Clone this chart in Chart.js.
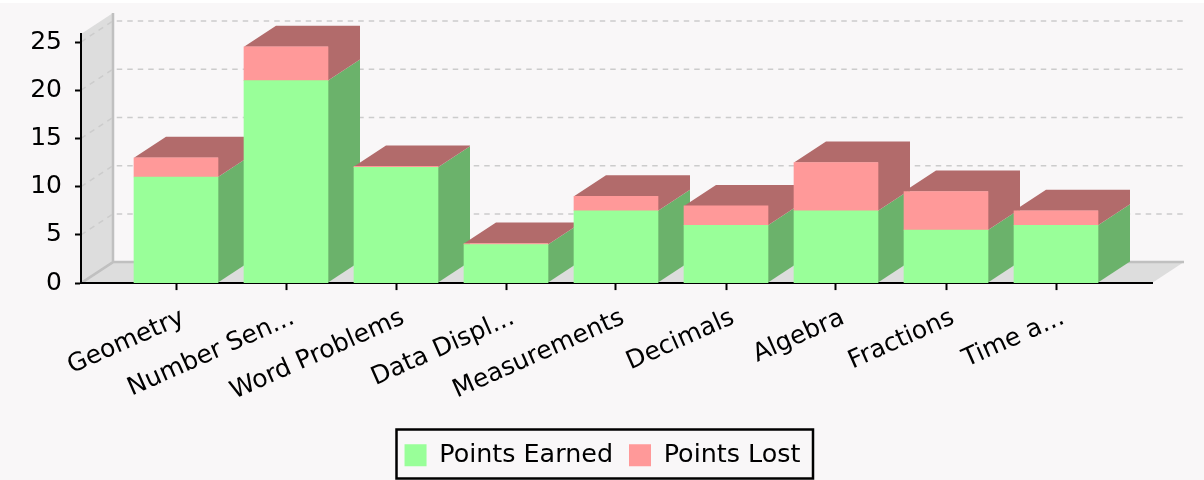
<!DOCTYPE html>
<html><head><meta charset="utf-8">
<style>html,body{margin:0;padding:0;background:#fff}#w{position:relative;width:1204px;height:480px}</style>
<script src="https://cdn.jsdelivr.net/npm/chart.js@4"></script></head>
<body><div id="w"><canvas id="c" width="1204" height="480"></canvas></div>
<script>
const categories = ['Geometry','Number Sen...','Word Problems','Data Displ...','Measurements','Decimals','Algebra','Fractions','Time a...'];
const pointsEarned = [11, 21, 12, 4, 7.5, 6, 7.5, 5.5, 6];
const pointsLost = [2, 3.5, 0.1, 0.1, 1.5, 2, 5, 4, 1.5];
const seriesNames = ['Points Earned','Points Lost'];
const frontColors = ['#99FF99','#FF9999'];
const sideColors = ['#6BB26B','#B26B6B'];
const DX = 32, DY = -21;
const FONT = 'DejaVu Sans';

const scene = {
  id:'scene',
  afterLayout(ch){
    const l=ch.legend;
    l.left=0; l.right=1205; l.width=1205;
    l.top-=2; l.bottom-=2;
  },
  beforeDraw(ch){
    const {ctx,chartArea:a,scales:{y}} = ch;
    ctx.save();
    ctx.fillStyle='#F9F7F8'; ctx.fillRect(0,3,1204,477);
    ctx.fillStyle='#DDDDDD';
    ctx.beginPath();ctx.moveTo(a.left,a.top);ctx.lineTo(a.left+DX,a.top+DY);ctx.lineTo(a.left+DX,a.bottom+DY);ctx.lineTo(a.left,a.bottom);ctx.closePath();ctx.fill();
    ctx.beginPath();ctx.moveTo(a.left,a.bottom);ctx.lineTo(a.left+DX,a.bottom+DY);ctx.lineTo(a.right+DX,a.bottom+DY);ctx.lineTo(a.right,a.bottom);ctx.closePath();ctx.fill();
    ctx.strokeStyle='#C0C0C0';ctx.lineWidth=2.5;
    ctx.beginPath();ctx.moveTo(a.left+DX,a.top+DY);ctx.lineTo(a.left+DX,a.bottom+DY);ctx.lineTo(a.right+DX,a.bottom+DY);
    ctx.moveTo(a.left,a.bottom);ctx.lineTo(a.left+DX,a.bottom+DY);ctx.stroke();
    ctx.strokeStyle='#CCCCCC';ctx.lineWidth=1.5;ctx.setLineDash([5.5,5]);
    y.ticks.forEach(t=>{ if(t.value===0) return; const p=y.getPixelForValue(t.value);
      ctx.beginPath();ctx.moveTo(a.left,p);ctx.lineTo(a.left+DX,p+DY);ctx.lineTo(a.right+DX,p+DY);ctx.stroke();});
    ctx.restore();
  },
  beforeDatasetsDraw(ch){
    const ctx=ch.ctx; ctx.save();
    const m0=ch.getDatasetMeta(0), m1=ch.getDatasetMeta(1);
    m0.data.forEach((g,i)=>{
      const b=m1.data[i], r=g.x+g.width/2, l=g.x-g.width/2;
      ctx.fillStyle=sideColors[0];
      ctx.beginPath();ctx.moveTo(r,g.base);ctx.lineTo(r+DX,g.base+DY);ctx.lineTo(r+DX,g.y+DY);ctx.lineTo(r,g.y);ctx.closePath();ctx.fill();
      ctx.fillStyle=sideColors[1];
      ctx.beginPath();ctx.moveTo(r,g.y);ctx.lineTo(r+DX,g.y+DY);ctx.lineTo(r+DX,b.y+DY);ctx.lineTo(l+DX,b.y+DY);ctx.lineTo(l,b.y);ctx.lineTo(r,b.y);ctx.closePath();ctx.fill();
    });
    ctx.restore();
  },
  afterDraw(ch){
    const ctx=ch.ctx;
    ctx.save();ctx.strokeStyle='#000';ctx.lineWidth=2.5;
    ctx.strokeRect(396.5,429.5,416.5,49);
    ctx.restore();
  }
};

new Chart(document.getElementById('c'),{
  type:'bar',
  plugins:[scene],
  data:{labels:categories,datasets:[
    {label:seriesNames[0],data:pointsEarned,backgroundColor:frontColors[0],borderWidth:0,barThickness:84,clip:false},
    {label:seriesNames[1],data:pointsLost,backgroundColor:frontColors[1],borderWidth:0,barThickness:84,clip:false}
  ]},
  options:{
    responsive:false,animation:false,
    layout:{padding:{left:0,right:52,top:34,bottom:0}},
    plugins:{
      title:{display:false},tooltip:{enabled:false},
      legend:{display:true,position:'bottom',
        labels:{boxWidth:22,boxHeight:22,padding:16,color:'#000',font:{family:FONT,size:25.4}}}
    },
    scales:{
      x:{stacked:true,z:1,offset:true,
        afterFit(s){s.height=145.5;},
        afterUpdate(s){s._startValue=-0.5-40/110; s._valueRange=(s.right-s.left)/110;},
        border:{color:'#000',width:2},
        grid:{drawOnChartArea:false,offset:false,tickColor:'#000',tickWidth:2,tickLength:7},
        ticks:{autoSkip:false,minRotation:24,maxRotation:24,color:'#000',padding:13,labelOffset:7,font:{family:FONT,size:25}}
      },
      y:{stacked:true,min:0,max:25.83,z:1,
        afterFit(s){s.width=81;},
        border:{color:'#000',width:2},
        grid:{drawOnChartArea:false,tickColor:'#000',tickWidth:2,tickLength:6},
        ticks:{stepSize:5,includeBounds:false,color:'#000',padding:13,font:{family:FONT,size:25}}
      }
    }
  }
});
</script></body></html>
